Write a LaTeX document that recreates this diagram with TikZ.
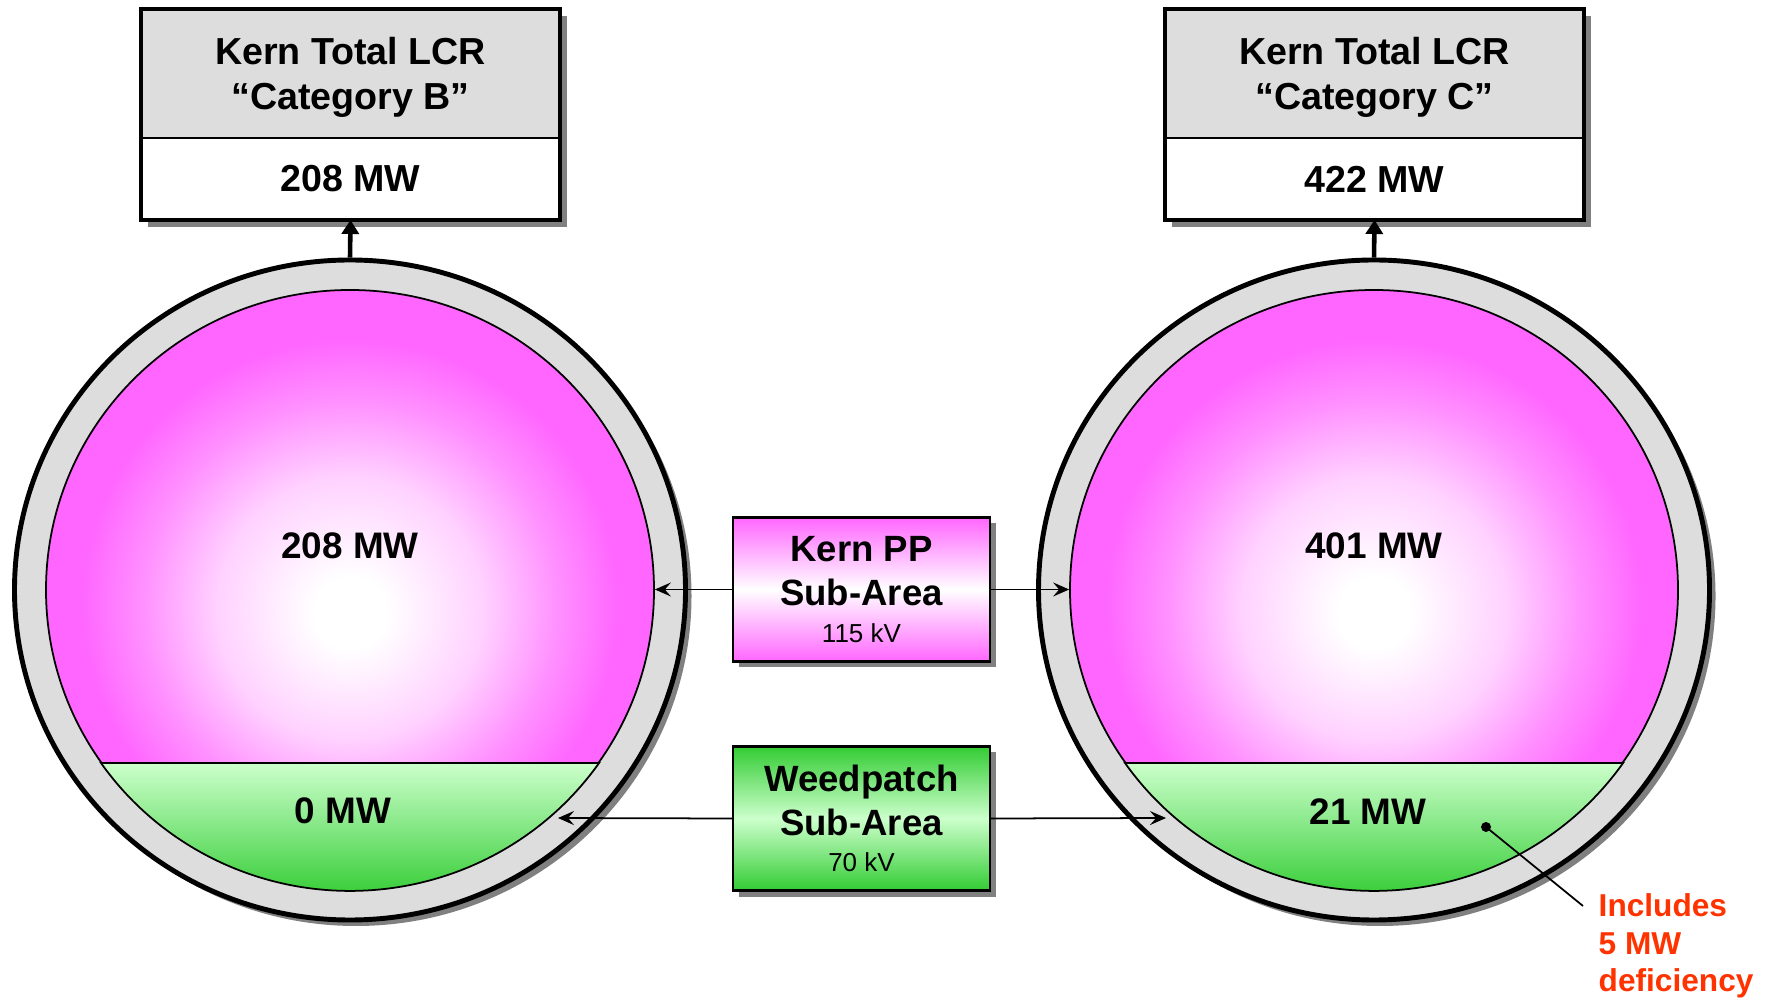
\documentclass[tikz,border=0pt]{standalone}
\usepackage{fontspec}
\setmainfont{Liberation Sans}
\usetikzlibrary{arrows.meta,calc,positioning,shadows,shapes.geometric}
\definecolor{pinkfill}{RGB}{255,102,255}
\definecolor{mint}{RGB}{204,255,204}
\definecolor{leaf}{RGB}{51,204,51}
\definecolor{ringgray}{RGB}{221,221,221}
\definecolor{shadowgray}{RGB}{128,128,128}
\definecolor{alert}{RGB}{255,51,0}
\newcommand{\kvfont}{\mdseries\fontsize{7.4}{9}\selectfont}
\pgfdeclareradialshading{glow}{\pgfpoint{0bp}{-2bp}}{color(0bp)=(white); color(3bp)=(white);
  color(11bp)=(pinkfill!30!white); color(17bp)=(pinkfill!72!white); color(22bp)=(pinkfill); color(50bp)=(pinkfill)}
\tikzset{
  castshadow/.style={drop shadow={shadow xshift=#1,shadow yshift=-#1,fill=shadowgray,opacity=1}},
  ring/.style={ellipse,minimum width=6.71cm,minimum height=6.60cm,fill=ringgray,draw,line width=1.4pt,castshadow=0.06cm},
  core/.style={ellipse,minimum width=6.08cm,minimum height=6.00cm,shade,shading=glow,draw,line width=0.5pt},
  weedseg/.style={draw,line width=0.5pt,top color=mint,bottom color=leaf},
  hdr/.style={rectangle,draw,line width=0.5pt,minimum width=4.19cm,outer sep=0pt,align=center,
    font=\bfseries\fontsize{10.7}{13}\selectfont,castshadow=0.07cm},
  hdrtop/.style={hdr,fill=ringgray,minimum height=1.29cm,text depth=0pt},
  hdrval/.style={hdr,fill=white,minimum height=0.82cm},
  frame/.style={line width=1.2pt},
  subbox/.style={rectangle,draw,line width=0.6pt,minimum width=2.57cm,minimum height=1.44cm,align=center,
    font=\bfseries\fontsize{10.4}{12.4}\selectfont,castshadow=0.06cm},
  link/.style={line width=0.5pt,-{Stealth[length=1.6mm,width=1.4mm,inset=0.6mm]}},
  uplink/.style={line width=1.3pt,-{Triangle[length=1.4mm,width=1.7mm]}},
  lbl/.style={font=\bfseries\fontsize{10.5}{12}\selectfont},
  dot/.style={circle,fill=black,inner sep=0pt,minimum size=0.1cm},
  leader/.style={line width=0.5pt},
  note/.style={font=\bfseries\fontsize{9}{10.7}\selectfont,text=alert,align=left,inner sep=0pt},
}
\begin{document}
\begin{tikzpicture}
  \useasboundingbox (0,0) rectangle (17.73,9.99);
  % category B
  \begin{scope}
    \node[ring] (ringB) at (3.50,4.09) {};
    \node[core] (coreB) at (3.50,4.09) {};
    \draw[weedseg] ($(coreB.center)+(-2.49,-1.73)$) arc[start angle=215,end angle=325,x radius=3.04,y radius=3.00] -- cycle;
    \node[lbl] (mwB) at (3.50,4.53) {208 MW};
    \node[lbl] (lowB) at (3.43,1.88) {0 MW};
    \node[hdrtop] (ttlB) at (3.505,9.255) {Kern Total LCR\\“Category B”};
    \node[hdrval,below=0pt of ttlB] (valB) {208 MW};
    \draw[frame] (ttlB.north west) rectangle (valB.south east);
    \draw[uplink] (ringB.north) -- (valB.south);
    \coordinate (wB) at (5.58,1.81);
  \end{scope}
  % category C
  \begin{scope}[xshift=10.24cm]
    \node[ring] (ringC) at (3.50,4.09) {};
    \node[core] (coreC) at (3.50,4.09) {};
    \draw[weedseg] ($(coreC.center)+(-2.49,-1.73)$) arc[start angle=215,end angle=325,x radius=3.04,y radius=3.00] -- cycle;
    \node[lbl] (mwC) at (3.50,4.53) {401 MW};
    \node[lbl] (lowC) at (3.44,1.87) {21 MW};
    \node[hdrtop] (ttlC) at (3.505,9.255) {Kern Total LCR\\“Category C”};
    \node[hdrval,below=0pt of ttlC] (valC) {422 MW};
    \draw[frame] (ttlC.north west) rectangle (valC.south east);
    \draw[uplink] (ringC.north) -- (valC.south);
    \coordinate (wC) at (1.42,1.81);
    \node[dot] (dotC) at (4.62,1.72) {};
    \coordinate (tipC) at (5.59,0.93);
    \draw[leader] (dotC.center) -- (tipC);
    \node[note,anchor=north west] (noteC) at (5.74,1.06) {Includes\\5 MW\\deficiency};
  \end{scope}
  % sub-areas
  \node[subbox,top color=pinkfill,bottom color=pinkfill,middle color=white] (kernpp) at (8.615,4.095)
    {Kern PP\\Sub-Area\\[-2pt]{\kvfont 115 kV}};
  \node[subbox,top color=leaf,bottom color=leaf,middle color=mint] (weed) at (8.615,1.805)
    {Weedpatch\\Sub-Area\\[-2pt]{\kvfont 70 kV}};
  \draw[link] (kernpp.west) -- (kernpp.west -| coreB.east);
  \draw[link] (kernpp.east) -- (kernpp.east -| coreC.west);
  \draw[link] (weed.west) -- (wB);
  \draw[link] (weed.east) -- (wC);
\end{tikzpicture}
\end{document}
